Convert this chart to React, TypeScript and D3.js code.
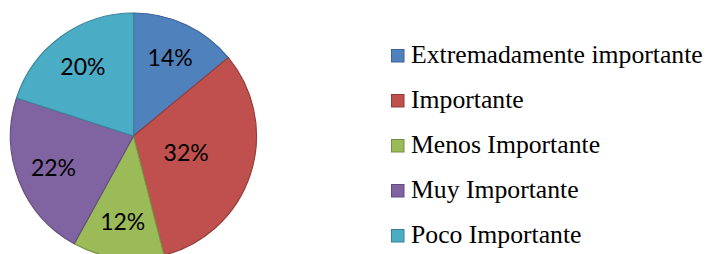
import * as d3 from "d3";

const categories = [
  "Extremadamente importante",
  "Importante",
  "Menos Importante",
  "Muy Importante",
  "Poco Importante",
];
const shares = [14, 32, 12, 22, 20];
const colors = ["#4F81BD", "#C0504D", "#9BBB59", "#8064A2", "#4BACC6"];

const width = 714;
const height = 254;
const cx = 133.5;
const cy = 136;
const radius = 123;

type Slice = { name: string; value: number; color: string };

export default function App() {
  const data: Slice[] = categories.map((name, i) => ({ name, value: shares[i], color: colors[i] }));

  const arcs = d3
    .pie<Slice>()
    .sort(null)
    .value((d) => d.value)(data);

  const arcGen = d3.arc<d3.PieArcDatum<Slice>>().innerRadius(0).outerRadius(radius);

  // Excel "best fit" pulls the big slice label inward
  const labelFrac = (name: string) => (name === "Importante" ? 0.45 : 0.7);
  const labelPos = (d: d3.PieArcDatum<Slice>) => {
    const r = radius * labelFrac(d.data.name);
    return d3.arc<d3.PieArcDatum<Slice>>().innerRadius(r).outerRadius(r).centroid(d);
  };

  const legendY = d3.scalePoint<string>().domain(categories).range([63, 243]);

  return (
    <svg
      width={width}
      height={height}
      viewBox={`0 0 ${width} ${height}`}
      style={{ position: "absolute", left: 0, top: 0, background: "#fff" }}
    >
      <g transform={`translate(${cx},${cy})`}>
        {arcs.map((d) => (
          <path
            key={d.data.name}
            d={arcGen(d) || ""}
            fill={d.data.color}
            stroke={d3.color(d.data.color)!.darker(0.7).formatHex()}
            strokeWidth={1.2}
            strokeLinejoin="round"
          />
        ))}
        {arcs.map((d) => {
          const [x, y] = labelPos(d);
          return (
            <text
              key={d.data.name}
              x={x}
              y={y}
              dy="0.36em"
              textAnchor="middle"
              fontFamily="Lato"
              fontSize={23}
              fill="#000"
            >
              {`${d.data.value}%`}
            </text>
          );
        })}
      </g>
      <g transform="translate(391,0)">
        {data.map((d) => {
          const y = legendY(d.name)!;
          return (
            <g key={d.name} transform={`translate(0,${y})`}>
              <rect
                x={0.5}
                y={-13.5}
                width={12.5}
                height={12.5}
                fill={d.color}
                stroke={d3.color(d.color)!.darker(0.8).formatHex()}
                strokeWidth={1}
              />
              <text x={20} y={0} fontFamily="Liberation Serif" fontSize={25.7} fill="#000">
                {d.name}
              </text>
            </g>
          );
        })}
      </g>
    </svg>
  );
}
